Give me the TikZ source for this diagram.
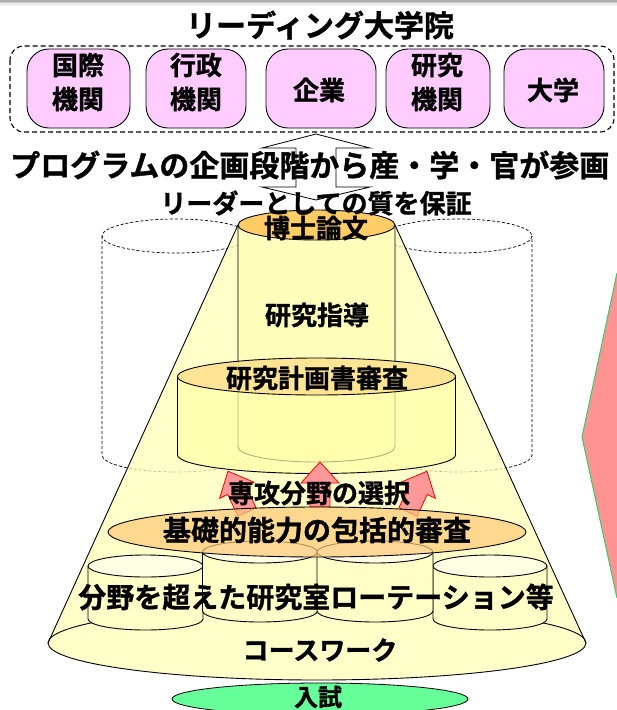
\documentclass[tikz,border=0pt]{standalone}
\usepackage{fontspec}
\setmainfont{Noto Sans CJK JP}[BoldFont={* Bold}, BoldFeatures={FakeBold=1.2}]
\definecolor{boxpink}{HTML}{FFCCFF}
\definecolor{coneY}{HTML}{FFFFB8}
\definecolor{cylY}{HTML}{FFFFBB}
\definecolor{cyl2Y}{HTML}{FFFFA8}
\definecolor{smallY}{HTML}{FFFFC8}
\definecolor{smallTop}{HTML}{FFFFE4}
\definecolor{topOr}{HTML}{FFCC66}
\definecolor{top2Or}{HTML}{FFD98A}
\definecolor{baseOr}{HTML}{FFC878}
\definecolor{arrPink}{HTML}{FF9999}
\definecolor{entG}{HTML}{66FF99}
\definecolor{sidePink}{HTML}{FF9393}
\definecolor{sideGreen}{HTML}{33CC66}
\tikzset{
  pbox/.style={draw=black, line width=0.9pt, fill=boxpink, rounded corners=22pt, inner sep=0pt},
  dashcyl/.style={draw=black, line width=0.7pt, dash pattern=on 3pt off 2pt},
  cline/.style={draw=black, line width=0.9pt},
  redarr/.style={fill=arrPink, draw=red, line width=0.8pt},
  tx/.style={inner sep=0pt, font=\bfseries\fontsize{#1pt}{#1pt}\selectfont},
  tx2/.style={inner sep=0pt, align=center, font=\bfseries\fontsize{26pt}{34pt}\selectfont}
}
\newcommand\myuparrow[3]{%
  \begin{scope}[shift={(#1,#2)}, rotate=#3]
    \path[redarr] (-10,0) -- (-10,-24) -- (-19,-24) -- (0,-45) -- (19,-24) -- (10,-24) -- (10,0) -- cycle;
  \end{scope}}
\newcommand\mycylinder[8]{% cx, ytop, ybot, rx, ry, bodyfill, topfill, extra opts
  \path[fill=#6, #8] (#1-#4,#2) -- (#1-#4,#3) arc[start angle=180, end angle=0, x radius=#4, y radius=#5] -- (#1+#4,#2) arc[start angle=0, end angle=-180, x radius=#4, y radius=#5] -- cycle;
  \draw[cline] (#1-#4,#2) -- (#1-#4,#3) arc[start angle=180, end angle=0, x radius=#4, y radius=#5] -- (#1+#4,#2);
  \path[fill=#7, #8] (#1,#2) ellipse [x radius=#4, y radius=#5];
  \draw[cline] (#1,#2) ellipse [x radius=#4, y radius=#5];}
\begin{document}
\begin{tikzpicture}[x=1pt, y=1pt, yscale=-1]
\useasboundingbox (0,0) rectangle (617,710);
\fill[white] (0,0) rectangle (617,710);
% top gray band
\fill[gray!65] (0,0) rectangle (617,1.5);
\fill[gray!40] (0,1.5) rectangle (617,3);
\fill[gray!18] (0,3) rectangle (617,4.5);
\fill[gray!6] (0,4.5) rectangle (617,6);

% title
\node[tx=30] (title) at (320,25) {リーディング大学院};

% dashed frame and partner boxes
\draw[line width=1.1pt, dash pattern=on 5pt off 3pt, rounded corners=14pt] (10,46) rectangle (614,132);
\node[pbox, minimum width=103pt, minimum height=79pt] (b1) at (78.5,88.5) {};
\node[pbox, minimum width=100pt, minimum height=79pt] (b2) at (196,88.5) {};
\node[pbox, minimum width=110pt, minimum height=79pt] (b3) at (321,88.5) {};
\node[pbox, minimum width=104pt, minimum height=79pt] (b4) at (438,88.5) {};
\node[pbox, minimum width=100pt, minimum height=79pt] (b5) at (554,88.5) {};
\node[tx2] (t1) at (78,82) {国際\\機関};
\node[tx2] (t2) at (196,82) {行政\\機関};
\node[tx2] (t3) at (319,90) {企業};
\node[tx2] (t4) at (437,82) {研究\\機関};
\node[tx2] (t5) at (553,90) {大学};

% double block arrow
\draw[line width=0.8pt] (316,134) -- (370,148) -- (336,148) -- (336,187) -- (370,187) -- (316,200)
  -- (262,187) -- (296,187) -- (296,148) -- (262,148) -- cycle;
\node[tx=30, anchor=west] (prog) at (10,165) {プログラムの企画段階から産・学・官が参画};

% dashed background cylinders
\draw[dashcyl] (176,236) ellipse [x radius=74, y radius=17];
\draw[dashcyl] (102,236) -- (102,455) arc[start angle=180, end angle=0, x radius=74, y radius=17];
\draw[dashcyl] (458,236) ellipse [x radius=74, y radius=17];
\draw[dashcyl] (384,455) arc[start angle=180, end angle=0, x radius=74, y radius=17] -- (532,236);

% cone
\path[fill=coneY, fill opacity=0.75] (238,225) -- (48,643) arc[start angle=180, end angle=0, x radius=269, y radius=37] -- (395,225) -- cycle;
\draw[cline] (238,225) -- (48,643);
\draw[cline] (395,225) -- (586,643);
\draw[cline] (317,643) ellipse [x radius=269, y radius=37];

% upper cylinders
\mycylinder{316.5}{225}{447}{78.5}{15}{cylY}{topOr}{}
\mycylinder{316.5}{376.5}{455}{139}{18.5}{cyl2Y}{top2Or}{fill opacity=0.7}

\node[tx=26] (lead) at (316,203) {リーダーとしての質を保証};
\node[tx=26] (hakase) at (316,228) {博士論文};
\node[tx=26] (shido) at (317,315) {研究指導};
\node[tx=26] (keikaku) at (317,378) {研究計画書審査};

% red arrows
\myuparrow{247}{512}{-25}
\myuparrow{320}{507}{0}
\myuparrow{408}{512}{25}
\node[tx=26] (senko) at (319,493) {専攻分野の選択};

% small cylinders
\mycylinder{145.5}{566}{619}{57.5}{11}{smallY}{smallTop}{}
\mycylinder{490}{566}{619}{57}{11}{smallY}{smallTop}{}
\mycylinder{260}{552}{611}{57.5}{11}{smallY}{smallTop}{}
\mycylinder{375}{552}{611}{58}{11}{smallY}{smallTop}{}

% basic ability ellipse
\path[fill=baseOr, fill opacity=0.7] (317,532) ellipse [x radius=209, y radius=25];
\draw[cline] (317,532) ellipse [x radius=209, y radius=25];

\node[tx=28] (kiso) at (317,530) {基礎的能力の包括的審査};
\node[tx=28] (rot) at (316,597) {分野を超えた研究室ローテーション等};
\node[tx=26] (course) at (320,650) {コースワーク};

% entrance exam
\draw[line width=0.8pt, fill=entG] (320,699) ellipse [x radius=148, y radius=16];
\node[tx=24] (nyushi) at (318,697) {入試};

% right-edge shape
\fill[sidePink] (617,273) -- (582,437) -- (617,598) -- cycle;
\draw[sideGreen, line width=1pt] (617,273) -- (582,437) -- (617,598);
\end{tikzpicture}
\end{document}
